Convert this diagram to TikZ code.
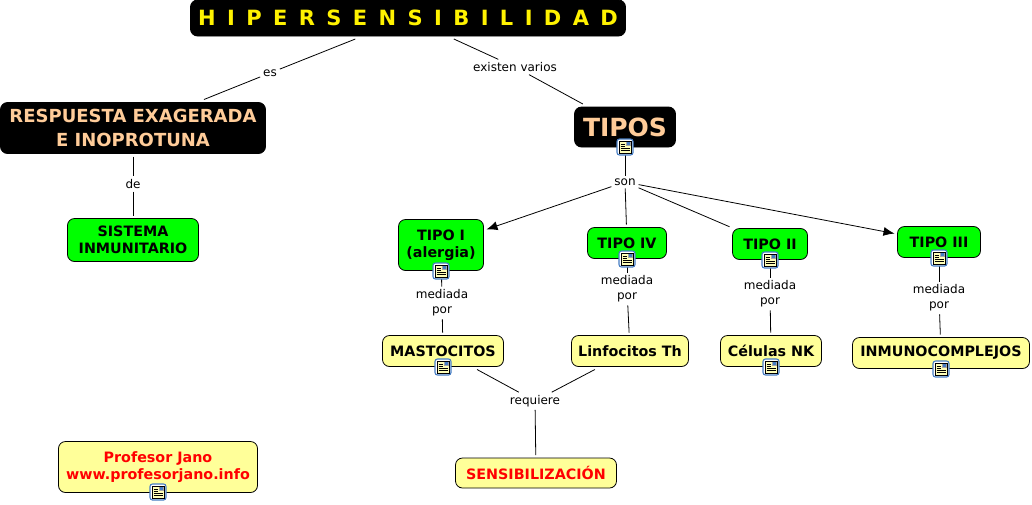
\documentclass[tikz,border=0pt]{standalone}
\usepackage{fontspec}
\setmainfont{DejaVu Sans}
\usetikzlibrary{arrows.meta}
\definecolor{paleyellow}{RGB}{255,255,153}
\definecolor{peach}{RGB}{255,204,153}
\definecolor{iconblue}{RGB}{70,125,195}
\newcommand{\titlefont}{\fontsize{21}{24}\selectfont\bfseries\spaceskip=11.4pt\relax}
\tikzset{
  box/.style={draw=black,line width=0.8pt,rounded corners=7pt,align=center,font=\fontsize{14.3}{17}\selectfont\bfseries,text=black,inner sep=0pt,outer sep=3pt},
  dark/.style={box,fill=black},
  green box/.style={box,fill=green},
  yellow box/.style={box,fill=paleyellow},
  lbl/.style={font=\fontsize{12}{15}\selectfont,align=center,text=black,inner sep=1pt,outer sep=2pt},
  conn/.style={draw=black,line width=0.8pt},
  arrowed/.style={conn,-{Latex[length=11pt,width=9pt]}},
  iconbox/.style={draw=iconblue,fill=white,line width=1.1pt,rounded corners=2.5pt,minimum size=16pt,inner sep=0pt,outer sep=0pt},
}
\newcommand{\docicon}[2]{%
  \node[iconbox] (#1) at #2 {};
  \begin{scope}[shift={#2}]
    \fill[paleyellow!70!white] (-6,-6) rectangle (6,6);
    \draw[black,line width=0.5pt] (-6,-6) rectangle (6,6);
    \fill[gray!70] (0.5,-5.5) rectangle (5.5,-0.8);
    \fill[iconblue] (2,-5) rectangle (4.5,-2.5);
    \foreach \yy in {-2.8,-0.6,1.6,3.8}{\draw[black,line width=0.8pt] (-4.5,\yy) -- (\ifdim\yy pt<0pt 0\else 4.5\fi,\yy);}
  \end{scope}}
\begin{document}
\begin{tikzpicture}[x=1pt,y=-1pt]
\useasboundingbox (0,0) rectangle (1032,504);
% nodes
\node[dark,minimum width=435pt,minimum height=36pt,text=yellow,font=\titlefont] (hiper) at (408,18) {H I P E R S E N S I B I L I D A D};
\node[dark,minimum width=265pt,minimum height=51pt,text=peach,font=\fontsize{18}{24}\selectfont\bfseries] (resp) at (133,128) {RESPUESTA EXAGERADA\\E INOPROTUNA};
\node[green box,minimum width=131pt,minimum height=43pt] (sist) at (133,240) {SISTEMA\\INMUNITARIO};
\node[dark,minimum width=101pt,minimum height=40pt,text=peach,font=\fontsize{25}{30}\selectfont\bfseries] (tipos) at (625,127) {TIPOS};
\node[green box,minimum width=85pt,minimum height=51pt] (t1) at (441,245) {TIPO I\\(alergia)};
\node[green box,minimum width=79pt,minimum height=31pt] (t4) at (627,243) {TIPO IV};
\node[green box,minimum width=75pt,minimum height=31pt] (t2) at (770,244) {TIPO II};
\node[green box,minimum width=83pt,minimum height=31pt] (t3) at (939,242) {TIPO III};
\node[yellow box,minimum width=121pt,minimum height=31pt] (mast) at (443,351) {MASTOCITOS};
\node[yellow box,minimum width=117pt,minimum height=31pt] (linf) at (630,351) {Linfocitos Th};
\node[yellow box,minimum width=101pt,minimum height=31pt] (nk) at (771,351) {Células NK};
\node[yellow box,minimum width=177pt,minimum height=31pt] (inmu) at (941,353) {INMUNOCOMPLEJOS};
\node[yellow box,minimum width=161pt,minimum height=30pt,text=red] (sens) at (536,473) {SENSIBILIZACIÓN};
\node[yellow box,minimum width=199pt,minimum height=51pt,text=red] (prof) at (158,467) {Profesor Jano\\www.profesorjano.info};
% labels
\node[lbl] (les) at (270,73) {es};
\node[lbl] (lex) at (515,67) {existen varios};
\node[lbl] (lde) at (133,184) {de};
\node[lbl] (lson) at (625,182) {son};
\node[lbl] (lm1) at (442,303) {mediada\\por};
\node[lbl] (lm4) at (627,289) {mediada\\por};
\node[lbl] (lm2) at (770,294) {mediada\\por};
\node[lbl] (lm3) at (939,298) {mediada\\por};
\node[lbl] (lreq) at (535,401) {requiere};
% connectors
\draw[conn] (hiper) -- (les);
\draw[conn] (les) -- (resp);
\draw[conn] (hiper) -- (lex);
\draw[conn] (lex) -- (tipos);
\draw[conn] (resp) -- (lde);
\draw[conn] (lde) -- (sist);
\draw[conn] (tipos) -- (lson);
\draw[arrowed] (lson) -- (t1);
\draw[conn] (lson) -- (t4);
\draw[conn] (lson) -- (t2);
\draw[arrowed] (lson) -- (t3);
\draw[conn] (t1) -- (lm1);
\draw[conn] (lm1) -- (mast);
\draw[conn] (t4) -- (lm4);
\draw[conn] (lm4) -- (linf);
\draw[conn] (t2) -- (lm2);
\draw[conn] (lm2) -- (nk);
\draw[conn] (t3) -- (lm3);
\draw[conn] (lm3) -- (inmu);
\draw[conn] (mast) -- (lreq);
\draw[conn] (linf) -- (lreq);
\draw[conn] (lreq) -- (sens);
% icons
\docicon{ictipos}{(625,147)}
\docicon{ict1}{(441,271)}
\docicon{ict4}{(627,259)}
\docicon{ict2}{(770,260)}
\docicon{ict3}{(939,258)}
\docicon{icmast}{(443,367)}
\docicon{icnk}{(771,367)}
\docicon{icinmu}{(941,369)}
\docicon{icprof}{(158,492)}
\end{tikzpicture}
\end{document}
